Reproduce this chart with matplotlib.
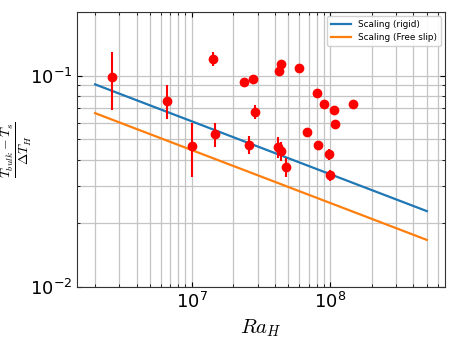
import numpy as np
import matplotlib
matplotlib.use("Agg")
import matplotlib.pyplot as plt

plt.rcParams['mathtext.fontset'] = 'cm'
plt.rcParams['font.family'] = ['DejaVu Sans']

# Data
ra = [2.67e6, 6.63e6, 1.0e7, 1.48e7, 1.43e7, 2.40e7, 2.79e7, 4.26e7, 4.40e7, 5.94e7,
      2.84e7, 8.09e7, 9.05e7, 1.075e8, 1.46e8, 1.087e8, 6.85e7, 2.58e7, 4.19e7, 4.45e7,
      4.83e7, 8.18e7, 9.79e7, 1.005e8]
theta = [0.0989, 0.0762, 0.0465, 0.053, 0.120, 0.0934, 0.0965, 0.105, 0.1136, 0.1088,
         0.0676, 0.0828, 0.0737, 0.069, 0.0735, 0.0589, 0.0544, 0.0471, 0.046, 0.0442,
         0.0371, 0.0470, 0.0425, 0.0339]
theta_err = [0.030, 0.014, 0.0135, 0.007, 0.0095, 0.0, 0.004, 0.0, 0.0, 0.0,
             0.005, 0.0, 0.0, 0.0, 0.0, 0.0, 0.0, 0.0047, 0.005, 0.0046,
             0.0038, 0.0015, 0.0025, 0.002]

ra_line = [2e6, 5e8]
coef_rigid = 3.42
coef_free = 2.50
exponent = -0.25

fig = plt.figure(figsize=(4.57, 3.43), dpi=100)
ax = fig.add_axes([0.1685, 0.163, 0.8055, 0.802])

ra_fit = np.logspace(np.log10(ra_line[0]), np.log10(ra_line[1]), 50)
ax.plot(ra_fit, coef_rigid * ra_fit**exponent, color='#1f77b4', lw=1.6, label='Scaling (rigid)')
ax.plot(ra_fit, coef_free * ra_fit**exponent, color='#ff7f0e', lw=1.6, label='Scaling (Free slip)')
ax.errorbar(ra, theta, yerr=theta_err, fmt='o', color='red', ms=6, elinewidth=1.5,
            capsize=0, zorder=5)

ax.set_xscale('log')
ax.set_yscale('log')
ax.set_xlim(1.48e6, 6.78e8)
ax.set_ylim(0.01, 0.2)
ax.grid(True, which='both', color='#c4c4c4', lw=0.9)
ax.set_axisbelow(True)
ax.tick_params(which='both', direction='in', top=True, right=True, labelsize=13)
ax.tick_params(which='minor', labelleft=False, labelbottom=False)
for s in ax.spines.values():
    s.set_color('#333333')

ax.set_xlabel(r'$Ra_H$', fontsize=15)
ax.set_ylabel(r'$\frac{T_{bulk}-T_s}{\Delta T_H}$', fontsize=14)
ax.yaxis.set_label_coords(-0.118, 0.5)

ax.legend(loc='upper right', fontsize=6.4, framealpha=0.9, handlelength=2.3)

fig.savefig('out.png', dpi=100)
